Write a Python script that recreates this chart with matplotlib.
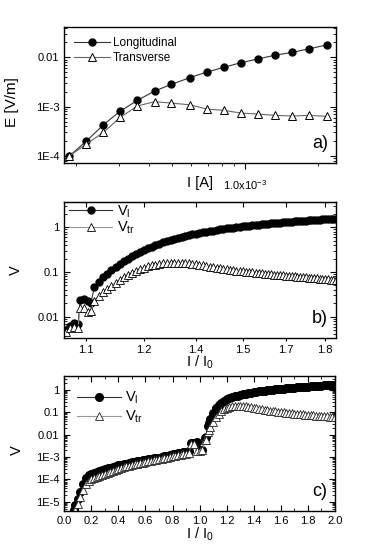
import matplotlib
matplotlib.use('Agg')
import matplotlib.pyplot as plt
from matplotlib.ticker import (LogLocator, FixedLocator, FuncFormatter, NullFormatter,
                               NullLocator, MultipleLocator)
import numpy as np

plt.rcParams['font.family'] = ['Liberation Sans', 'DejaVu Sans']
plt.rcParams['mathtext.default'] = 'regular'

# ---------------- panel a: E vs I ----------------
cur_a = [1.87e-4, 2.20e-4, 2.59e-4, 3.04e-4, 3.58e-4, 4.22e-4, 4.96e-4, 5.90e-4,
         6.95e-4, 8.18e-4, 9.62e-4, 1.13e-3, 1.33e-3, 1.57e-3, 1.85e-3, 2.18e-3]
e_long = [1.0e-4, 2.0e-4, 4.3e-4, 8.1e-4, 1.34e-3, 2.07e-3, 2.83e-3, 3.86e-3,
          5.03e-3, 6.27e-3, 7.77e-3, 9.24e-3, 1.10e-2, 1.26e-2, 1.49e-2, 1.78e-2]
e_trans = [1.0e-4, 1.74e-4, 3.01e-4, 6.07e-4, 1.03e-3, 1.26e-3, 1.18e-3, 1.09e-3,
           8.94e-4, 8.41e-4, 7.42e-4, 7.08e-4, 6.66e-4, 6.45e-4, 6.66e-4, 6.36e-4]

# ---------------- panel b: V vs I/I0 (zoom) ----------------
ratio_b = [1.056, 1.065, 1.074, 1.083, 1.088, 1.096, 1.105, 1.112,
           1.12, 1.13, 1.14, 1.15, 1.16, 1.17, 1.18, 1.19, 1.20, 1.21, 1.22, 1.23,
           1.24, 1.25, 1.26, 1.27, 1.28, 1.29, 1.30, 1.31, 1.32, 1.33, 1.34, 1.35,
           1.36, 1.37, 1.38, 1.39, 1.40, 1.41, 1.42, 1.43, 1.44, 1.45, 1.46, 1.47,
           1.48, 1.49, 1.50, 1.51, 1.52, 1.53, 1.54, 1.55, 1.56, 1.57, 1.58, 1.59,
           1.60, 1.61, 1.62, 1.63, 1.64, 1.65, 1.66, 1.67, 1.68, 1.69, 1.70, 1.71,
           1.72, 1.73, 1.74, 1.75, 1.76, 1.77, 1.78, 1.79, 1.80, 1.81, 1.82, 1.83, 1.84]
vl_b = [5.0e-3, 6.2e-3, 7.1e-3, 6.7e-3, 0.0235, 0.0245, 0.0224, 0.020,
        0.0457, 0.060, 0.076, 0.091, 0.110, 0.129, 0.151, 0.174, 0.200, 0.226, 0.254, 0.282,
        0.313, 0.343, 0.372, 0.403, 0.432, 0.462, 0.492, 0.521, 0.550, 0.578, 0.607, 0.635,
        0.664, 0.692, 0.719, 0.746, 0.773, 0.798, 0.822, 0.847, 0.871, 0.895, 0.918, 0.942,
        0.964, 0.986, 1.009, 1.030, 1.052, 1.072, 1.091, 1.112, 1.130, 1.148, 1.167, 1.186,
        1.205, 1.225, 1.242, 1.259, 1.276, 1.294, 1.312, 1.327, 1.343, 1.358, 1.374, 1.390,
        1.403, 1.416, 1.429, 1.442, 1.455, 1.469, 1.483, 1.496, 1.510, 1.524, 1.538, 1.552, 1.567]
vtr_b = [4.5e-3, 5.5e-3, 6.0e-3, 5.5e-3, 0.0155, 0.0160, 0.013, 0.0135,
         0.023, 0.029, 0.035, 0.042, 0.049, 0.057, 0.066, 0.076, 0.086, 0.097, 0.107, 0.116,
         0.125, 0.133, 0.140, 0.146, 0.151, 0.155, 0.158, 0.160, 0.161, 0.161, 0.160, 0.158,
         0.155, 0.152, 0.148, 0.144, 0.140, 0.136, 0.132, 0.128, 0.125, 0.122, 0.119, 0.116,
         0.113, 0.110, 0.108, 0.106, 0.104, 0.102, 0.100, 0.098, 0.096, 0.094, 0.093, 0.091,
         0.090, 0.088, 0.087, 0.086, 0.085, 0.084, 0.083, 0.082, 0.081, 0.080, 0.079, 0.078,
         0.077, 0.076, 0.075, 0.074, 0.073, 0.072, 0.071, 0.070, 0.069, 0.068, 0.0675, 0.067, 0.066]
ticks_b = [1.1, 1.24, 1.38, 1.52, 1.66, 1.8]
ticklabels_b = ['1.1', '1.2', '1.4', '1.5', '1.7', '1.8']

# ---------------- panel c: V vs I/I0 (full range) ----------------
ratio_c = [0.07, 0.08, 0.10, 0.12, 0.14, 0.16, 0.18, 0.20, 0.22, 0.24, 0.26, 0.28, 0.30,
           0.32, 0.34, 0.36, 0.38, 0.40, 0.42, 0.44, 0.46, 0.48, 0.50, 0.52, 0.54, 0.56,
           0.58, 0.60, 0.62, 0.64, 0.66, 0.68, 0.70, 0.72, 0.74, 0.76, 0.78, 0.80, 0.82,
           0.84, 0.86, 0.88, 0.90, 0.92, 0.94, 0.96, 0.98, 1.00, 1.02, 1.04, 1.05, 1.06,
           1.07, 1.08, 1.10, 1.12, 1.14, 1.16, 1.18, 1.20, 1.22, 1.24, 1.26, 1.28, 1.30,
           1.32, 1.34, 1.36, 1.38, 1.40, 1.42, 1.44, 1.46, 1.48, 1.50, 1.52, 1.54, 1.56,
           1.58, 1.60, 1.62, 1.64, 1.66, 1.68, 1.70, 1.72, 1.74, 1.76, 1.78, 1.80, 1.82,
           1.84, 1.86, 1.88, 1.90, 1.92, 1.94, 1.96, 1.98, 2.00]
vl_c = [4.5e-6, 7e-6, 1.4e-5, 2.8e-5, 6.3e-5, 1.1e-4, 1.5e-4, 1.7e-4, 1.95e-4, 2.2e-4,
        2.4e-4, 2.7e-4, 2.9e-4, 3.2e-4, 3.4e-4, 3.6e-4, 3.9e-4, 4.2e-4, 4.5e-4, 4.8e-4,
        5.1e-4, 5.5e-4, 5.8e-4, 6.2e-4, 6.5e-4, 6.9e-4, 7.2e-4, 7.6e-4, 8.0e-4, 8.3e-4,
        8.7e-4, 9.1e-4, 9.5e-4, 1.02e-3, 1.1e-3, 1.15e-3, 1.23e-3, 1.32e-3, 1.38e-3,
        1.48e-3, 1.55e-3, 1.66e-3, 1.74e-3, 1.82e-3, 4.4e-3, 4.2e-3, 4.5e-3, 2.0e-3,
        2.1e-3, 6.8e-3, 7.5e-3, 0.024, 0.035, 0.05, 0.09, 0.15, 0.21, 0.27, 0.33, 0.38,
        0.43, 0.47, 0.51, 0.55, 0.59, 0.63, 0.67, 0.71, 0.75, 0.79, 0.83, 0.86, 0.90,
        0.94, 0.97, 1.00, 1.03, 1.06, 1.09, 1.12, 1.15, 1.18, 1.21, 1.24, 1.27, 1.30,
        1.33, 1.36, 1.39, 1.42, 1.45, 1.48, 1.51, 1.54, 1.57, 1.60, 1.63, 1.66, 1.69, 1.72]
vtr_c = [3e-6, 4.5e-6, 8e-6, 1.6e-5, 3.5e-5, 6.0e-5, 8.5e-5, 1.0e-4, 1.15e-4, 1.3e-4,
         1.45e-4, 1.6e-4, 1.8e-4, 2.0e-4, 2.2e-4, 2.45e-4, 2.7e-4, 2.95e-4, 3.2e-4, 3.5e-4,
         3.8e-4, 4.1e-4, 4.4e-4, 4.7e-4, 5.0e-4, 5.4e-4, 5.7e-4, 6.0e-4, 6.4e-4, 6.8e-4,
         7.2e-4, 7.6e-4, 8.0e-4, 8.5e-4, 9.0e-4, 9.5e-4, 1.0e-3, 1.06e-3, 1.12e-3,
         1.18e-3, 1.25e-3, 1.32e-3, 1.4e-3, 1.5e-3, 4.0e-3, 3.8e-3, 1.8e-3, 1.9e-3,
         2.0e-3, 5.5e-3, 6.0e-3, 0.013, 0.016, 0.022, 0.038, 0.060, 0.085, 0.11, 0.135,
         0.158, 0.176, 0.188, 0.196, 0.200, 0.198, 0.192, 0.184, 0.175, 0.166, 0.158,
         0.150, 0.143, 0.136, 0.130, 0.124, 0.119, 0.114, 0.110, 0.106, 0.102, 0.099,
         0.096, 0.093, 0.090, 0.088, 0.085, 0.083, 0.081, 0.079, 0.077, 0.075, 0.073,
         0.071, 0.070, 0.068, 0.067, 0.066, 0.065, 0.064, 0.063]


def sci_fmt(v, pos):
    if v >= 0.01:
        return '%g' % v
    return '1E%d' % int(round(np.log10(v)))


def style_y(ax):
    ax.set_yscale('log')
    ax.yaxis.set_major_formatter(FuncFormatter(sci_fmt))
    ax.yaxis.set_minor_formatter(NullFormatter())
    ax.tick_params(axis='y', which='both', direction='in', left=True, right=True, labelsize=8)
    ax.tick_params(axis='y', which='major', length=4, width=0.8)
    ax.tick_params(axis='y', which='minor', length=2, width=0.6)


fig = plt.figure(figsize=(3.82, 5.49), dpi=100)

# ---- a ----
ax1 = fig.add_axes([0.168, 0.7025, 0.712, 0.2478])
ax1.plot(cur_a, e_long, '-', color='#333333', lw=0.8, marker='o', ms=5,
         mfc='black', mec='black', label='Longitudinal')
ax1.plot(cur_a, e_trans, '-', color='#666666', lw=0.8, marker='^', ms=5.5,
         mfc='white', mec='black', mew=0.7, label='Transverse')
ax1.set_xscale('log')
style_y(ax1)
ax1.set_xlim(1.78e-4, 2.39e-3)
ax1.set_ylim(7.1e-5, 0.0406)
ax1.xaxis.set_major_locator(FixedLocator([1e-3]))
ax1.xaxis.set_major_formatter(FuncFormatter(lambda v, p: '1.0x10$^{-3}$'))
ax1.xaxis.set_minor_locator(LogLocator(subs=np.arange(2, 10)))
ax1.xaxis.set_minor_formatter(NullFormatter())
ax1.tick_params(axis='x', which='both', direction='out', labelsize=8, pad=7)
ax1.tick_params(axis='x', which='major', length=4)
ax1.tick_params(axis='x', which='minor', length=2.5)
ax1.set_ylabel('E [V/m]', fontsize=11)
ax1.yaxis.set_label_coords(-0.165, 0.45)
ax1.set_xlabel('I [A]', fontsize=10.5)
ax1.xaxis.set_label_coords(0.5, -0.095)
ax1.legend(loc='upper left', frameon=False, fontsize=8.5, handlelength=3.0,
           borderaxespad=0.45, labelspacing=0.25, handletextpad=0.3)
ax1.text(0.97, 0.08, 'a)', transform=ax1.transAxes, fontsize=13, ha='right', va='bottom')

# ---- b ----
ax2 = fig.add_axes([0.168, 0.3849, 0.712, 0.2477])
ax2.plot(ratio_b, vl_b, '-', color='#333333', lw=0.8, marker='o', ms=5,
         mfc='black', mec='black', label='V$_l$')
ax2.plot(ratio_b, vtr_b, '-', color='#999999', lw=0.8, marker='^', ms=5.5,
         mfc='white', mec='black', mew=0.6, label='V$_{tr}$')
ax2.set_xscale('log')
style_y(ax2)
ax2.set_xlim(1.0527, 1.841)
ax2.set_ylim(3.39e-3, 3.74)
ax2.xaxis.set_major_locator(FixedLocator(ticks_b))
ax2.xaxis.set_major_formatter(FuncFormatter(
    lambda v, p: ticklabels_b[p] if p is not None and p < len(ticklabels_b) else ''))
ax2.xaxis.set_minor_locator(NullLocator())
ax2.tick_params(axis='x', which='major', direction='out', length=2.5, labelsize=8, pad=3)
top_b = ax2.secondary_xaxis('top')
top_b.xaxis.set_major_locator(FixedLocator(ticks_b))
top_b.xaxis.set_minor_locator(NullLocator())
top_b.tick_params(axis='x', which='both', direction='in', length=3.5, labeltop=False)
ax2.set_ylabel('V', fontsize=10.5)
ax2.yaxis.set_label_coords(-0.15, 0.5)
ax2.set_xlabel('I / I$_0$', fontsize=10.5, labelpad=-1)
ax2.legend(loc='upper left', bbox_to_anchor=(-0.01, 1.04), frameon=False, fontsize=10.5,
           handlelength=3.0, borderaxespad=0.1, labelspacing=0.0, handletextpad=0.3)
ax2.text(0.97, 0.08, 'b)', transform=ax2.transAxes, fontsize=13, ha='right', va='bottom')

# ---- c ----
ax3 = fig.add_axes([0.168, 0.0698, 0.709, 0.2453])
ax3.plot(ratio_c, vl_c, '-', color='#333333', lw=0.8, marker='o', ms=5.5,
         mfc='black', mec='black', label='V$_l$')
ax3.plot(ratio_c, vtr_c, '-', color='#999999', lw=0.8, marker='^', ms=6,
         mfc='white', mec='#222222', mew=0.6, label='V$_{tr}$')
style_y(ax3)
ax3.set_xlim(0, 2.0)
ax3.set_ylim(4e-6, 4.2)
ax3.set_yticks([1e-5, 1e-4, 1e-3, 1e-2, 1e-1, 1])
ax3.xaxis.set_major_locator(MultipleLocator(0.2))
ax3.xaxis.set_minor_locator(MultipleLocator(0.1))
ax3.xaxis.set_major_formatter(FuncFormatter(lambda v, p: '%.1f' % v))
ax3.tick_params(axis='x', which='both', direction='in', top=True, bottom=True, labelsize=8)
ax3.tick_params(axis='x', which='major', length=4)
ax3.tick_params(axis='x', which='minor', length=2)
ax3.set_ylabel('V', fontsize=10.5)
ax3.yaxis.set_label_coords(-0.15, 0.45)
ax3.set_xlabel('I / I$_0$', fontsize=10.5, labelpad=0)
ax3.legend(loc='upper left', bbox_to_anchor=(0.02, 0.95), frameon=False, fontsize=10.5,
           handlelength=3.0, borderaxespad=0.1, labelspacing=0.15, handletextpad=0.3)
ax3.text(0.97, 0.08, 'c)', transform=ax3.transAxes, fontsize=13, ha='right', va='bottom')

for ax in (ax1, ax2, ax3):
    for s in ax.spines.values():
        s.set_linewidth(1.0)

fig.savefig('out.png', dpi=100, facecolor='white')
